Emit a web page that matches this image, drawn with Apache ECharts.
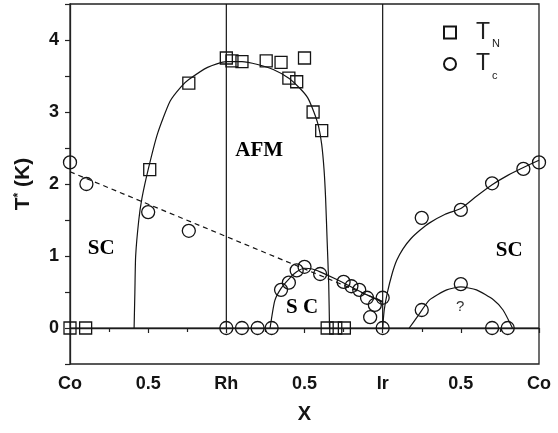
<!DOCTYPE html>
<html><head><meta charset="utf-8">
<script src="https://cdn.jsdelivr.net/npm/echarts@6/dist/echarts.min.js"></script>
<style>html,body{margin:0;padding:0;background:#fff}#c{width:558px;height:433px}</style>
</head><body><div id="c"></div>
<script>
// x positions: Co=0, Rh=1, Ir=2, Co=3 (composition path)
const xTickLabels = ['Co', '0.5', 'Rh', '0.5', 'Ir', '0.5', 'Co'];
const yTickLabels = ['0', '1', '2', '3', '4'];

const tnPoints = [
  [0.0, 0], [0.1, 0], [0.51, 2.2], [0.76, 3.4], [1.0, 3.75], [1.036, 3.71], [1.10, 3.70],
  [1.255, 3.71], [1.35, 3.69], [1.5, 3.75], [1.40, 3.47], [1.45, 3.42], [1.555, 3.0],
  [1.61, 2.74], [1.645, 0], [1.70, 0], [1.755, 0]
];
const tcPoints = [
  [0.0, 2.3], [0.105, 2.0], [0.5, 1.61], [0.76, 1.35],
  [1.0, 0], [1.10, 0], [1.20, 0], [1.29, 0],
  [1.35, 0.53], [1.40, 0.63], [1.45, 0.80], [1.50, 0.85], [1.60, 0.75],
  [1.75, 0.64], [1.80, 0.58], [1.85, 0.53], [1.90, 0.42], [1.95, 0.32], [1.92, 0.15],
  [2.0, 0.42], [2.0, 0],
  [2.25, 1.53], [2.5, 1.64], [2.7, 2.01], [2.9, 2.21], [3.0, 2.3],
  [2.25, 0.25], [2.5, 0.61], [2.70, 0], [2.80, 0]
];
const afmDome = [
  [0.41, 0], [0.415, 0.5], [0.42, 1.0], [0.44, 1.5], [0.46, 1.8], [0.50, 2.2], [0.56, 2.7],
  [0.64, 3.15], [0.71, 3.35], [0.76, 3.45], [0.88, 3.62], [1.0, 3.70], [1.1, 3.70],
  [1.2, 3.66], [1.3, 3.59], [1.4, 3.47], [1.47, 3.33], [1.52, 3.2], [1.56, 3.0],
  [1.59, 2.8], [1.61, 2.55], [1.625, 2.2], [1.635, 1.8], [1.645, 1.2], [1.655, 0.6], [1.66, 0]
];
const scDomeMid = [
  [1.28, 0], [1.31, 0.38], [1.35, 0.55], [1.40, 0.68], [1.45, 0.78], [1.50, 0.83],
  [1.55, 0.82], [1.60, 0.78], [1.70, 0.68], [1.80, 0.57], [1.90, 0.46], [2.0, 0.36]
];
const scDashed = [[0, 2.17], [2.0, 0.37]];
const scRight = [
  [2.0, 0], [2.01, 0.25], [2.03, 0.49], [2.06, 0.75], [2.09, 0.94], [2.13, 1.1], [2.18, 1.24],
  [2.24, 1.36], [2.30, 1.46], [2.40, 1.58], [2.5, 1.66], [2.6, 1.83], [2.7, 1.99],
  [2.8, 2.12], [2.9, 2.23], [3.0, 2.33]
];
const unknownDome = [
  [2.17, 0], [2.22, 0.15], [2.30, 0.39], [2.41, 0.53], [2.5, 0.57], [2.6, 0.53],
  [2.71, 0.39], [2.77, 0.25], [2.83, 0]
];
const baseline = [[0, 0], [3, 0]];
const rhLine = [[1, 0], [1, 4.5]];
const irLine = [[2, 0], [2, 4.5]];
const annotations = [
  { x: 0.20, y: 1.11, text: 'SC' },
  { x: 1.21, y: 2.46, text: 'AFM' },
  { x: 1.485, y: 0.28, text: 'S C' },
  { x: 2.81, y: 1.08, text: 'SC' },
  { x: 2.495, y: 0.29, text: '?' }
];

const INK = '#141414';
const lineSeries = (data, opts) => Object.assign({
  type: 'line', data, showSymbol: false, symbol: 'none', silent: true,
  lineStyle: { color: INK, width: 1.2 }, z: 2, animation: false
}, opts || {});

const chart = echarts.init(document.getElementById('c'), null, { renderer: 'canvas' });
chart.setOption({
  animation: false,
  backgroundColor: '#fff',
  grid: { left: 70, right: 19, top: 4, bottom: 69, show: true, borderColor: '#222', borderWidth: 1.3 },
  xAxis: {
    type: 'value', min: 0, max: 3, interval: 0.5,
    name: 'X', nameLocation: 'middle', nameGap: 40,
    nameTextStyle: { fontFamily: 'Liberation Sans', fontWeight: 'bold', fontSize: 20, color: INK },
    axisLine: { lineStyle: { color: '#222', width: 1.3 } },
    axisTick: { length: 5, lineStyle: { color: '#222', width: 1.2 } },
    minorTick: { show: true, splitNumber: 2, length: 4, lineStyle: { color: '#222', width: 1.2 } },
    splitLine: { show: false },
    axisLabel: {
      margin: 11, fontFamily: 'Liberation Sans', fontWeight: 'bold', fontSize: 18, color: INK,
      formatter: v => xTickLabels[Math.round(v / 0.5)] || ''
    }
  },
  yAxis: {
    type: 'value', min: -0.5, max: 4.5, interval: 0.5,
    name: '{a|T}{b|*}{a| (K)}', nameLocation: 'middle', nameGap: 36, nameRotate: 90,
    nameTextStyle: {
      rich: {
        a: { fontFamily: 'Liberation Sans', fontWeight: 'bold', fontSize: 21, color: INK },
        b: { fontFamily: 'Liberation Sans', fontWeight: 'bold', fontSize: 12, color: INK, verticalAlign: 'top' }
      }
    },
    axisLine: { lineStyle: { color: '#222', width: 1.3 } },
    axisTick: { length: 5, lineStyle: { color: '#222', width: 1.2 } },
    splitLine: { show: false },
    axisLabel: {
      margin: 11, fontFamily: 'Liberation Sans', fontWeight: 'bold', fontSize: 18, color: INK,
      formatter: v => (Math.abs(v - Math.round(v)) < 1e-6 && v >= 0) ? yTickLabels[Math.round(v)] : ''
    }
  },
  legend: {
    orient: 'vertical', left: 438, top: 16, itemWidth: 12, itemHeight: 12, itemGap: 3,
    data: ['TN', 'Tc'],
    formatter: n => n === 'TN' ? '{t|T}{s|N}' : '{t|T}{s|c}',
    textStyle: {
      rich: {
        t: { fontFamily: 'Liberation Sans', fontSize: 23, lineHeight: 26, color: '#222', padding: [0, 0, 0, 15] },
        s: { fontFamily: 'Liberation Sans', fontSize: 11, lineHeight: 11, color: '#222', verticalAlign: 'bottom', padding: [0, 0, -4, 2] }
      }
    }
  },
  series: [
    lineSeries(baseline),
    lineSeries(rhLine),
    lineSeries(irLine),
    lineSeries(afmDome, { smooth: 0.2 }),
    lineSeries(scDomeMid, { smooth: 0.2 }),
    lineSeries(scRight, { smooth: 0.2 }),
    lineSeries(unknownDome, { smooth: 0.2 }),
    lineSeries(scDashed, { lineStyle: { color: INK, width: 1.2, type: [5, 4] } }),
    {
      name: 'TN', type: 'scatter', data: tnPoints, symbol: 'rect', symbolSize: 12, z: 5,
      itemStyle: { color: 'rgba(255,255,255,0)', borderColor: INK, borderWidth: 1.3, opacity: 1 }
    },
    {
      name: 'Tc', type: 'scatter', data: tcPoints, symbol: 'circle', symbolSize: 13, z: 5,
      itemStyle: { color: 'rgba(255,255,255,0)', borderColor: INK, borderWidth: 1.3, opacity: 1 }
    },
    {
      type: 'scatter', silent: true, symbolSize: 0, z: 6,
      itemStyle: { opacity: 1 },
      data: annotations.map(a => ({
        value: [a.x, a.y], name: a.text,
        label: a.text === '?'
          ? { fontFamily: 'Liberation Sans', fontWeight: 'normal', fontSize: 15, color: '#333' }
          : { fontFamily: 'Liberation Serif', fontWeight: 'bold', fontSize: 21, color: '#000' }
      })),
      label: { show: true, position: 'inside', opacity: 1, textBorderWidth: 0, formatter: p => p.name }
    }
  ]
});
</script></body></html>
